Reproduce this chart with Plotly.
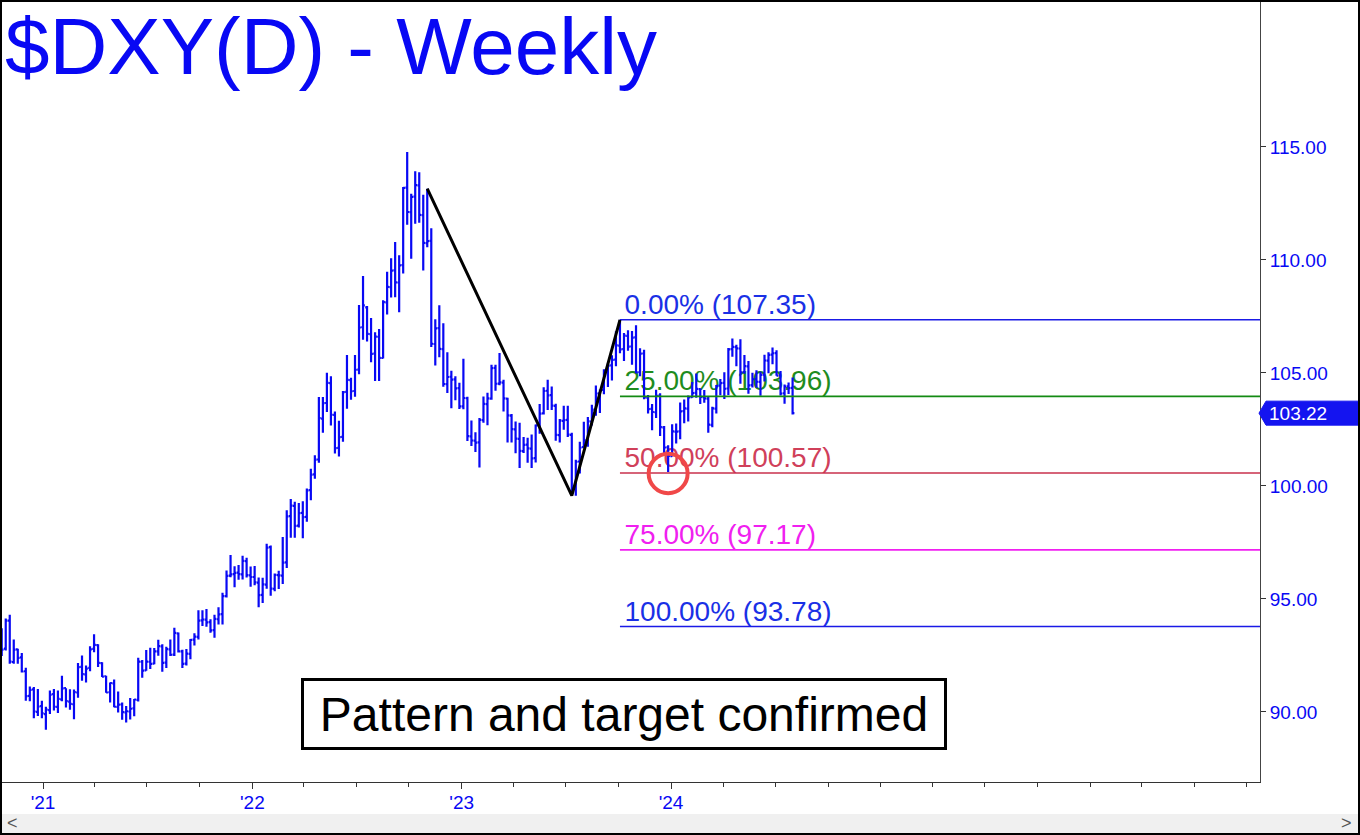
import pandas as pd
import plotly.graph_objects as go

# ---------------- data (weekly OHLC) ----------------
opens = [
    # 2020 (from late Oct)
    93.68, 92.80, 94.04, 92.21, 92.77, 92.41, 91.80, 90.71, 91.00, 90.00,
    # 2021
    90.26, 89.90, 90.08, 90.79, 90.22, 90.56, 91.05, 90.46, 90.34, 90.86,
    91.99, 91.66, 91.95, 92.79, 92.96, 92.16, 91.58, 90.87, 91.26, 90.22,
    90.33, 89.98, 90.02, 90.16, 90.53, 92.22, 91.84, 92.22, 92.14, 92.68,
    92.90, 92.18, 92.77, 92.54, 93.48, 92.68, 92.14, 92.57, 93.20, 93.32,
    94.05, 94.08, 93.97, 93.62, 94.10, 94.33, 95.12, 96.03, 96.10, 96.16,
    96.09, 96.67, 96.04,
    # 2022
    95.97, 95.72, 95.18, 95.63, 97.29, 95.45, 96.05, 96.03, 96.62, 98.66,
    99.12, 98.24, 98.81, 98.63, 99.81, 100.51, 101.17, 102.98, 103.67, 104.55,
    103.14, 101.68, 102.17, 104.16, 104.68, 104.20, 105.15, 107.02, 107.90, 106.72,
    105.85, 106.60, 105.66, 108.12, 108.80, 109.54, 109.00, 109.77, 113.20, 112.11,
    112.80, 113.30, 111.98, 110.74, 110.84, 106.28, 106.98, 106.05, 104.50, 104.83,
    104.71, 104.33,
    # 2023
    103.52, 103.88, 102.19, 102.00, 101.93, 102.91, 103.62, 103.86, 105.22, 104.53,
    104.57, 103.86, 103.11, 102.50, 102.08, 101.54, 101.83, 101.65, 101.23, 102.67,
    103.21, 104.21, 104.02, 103.54, 102.25, 102.88, 102.92, 102.26, 99.90, 101.08,
    101.72, 102.03, 102.85, 103.37, 104.10, 104.25, 105.06, 105.33, 105.59, 106.21,
    106.05, 106.64, 106.17, 106.57, 105.03, 105.86, 103.91, 103.41, 103.26, 104.00,
    102.59, 101.71,
    # 2024
    101.32, 102.40, 102.41, 103.31, 103.42, 103.93, 104.12, 104.28, 103.93, 103.86,
    102.70, 103.42, 104.44, 104.56, 104.31, 106.05, 106.14, 106.08, 105.04, 105.29,
    104.46, 104.73, 104.60, 104.92, 105.54, 105.81, 105.88, 104.89, 104.10, 104.41,
    104.34,
]
highs = [
    93.70, 94.13, 94.30, 93.21, 92.80, 92.61, 91.95, 91.13, 91.10, 91.01,
    90.50, 90.23, 90.95, 91.01, 90.95, 91.60, 91.05, 91.00, 90.99, 92.17,
    92.50, 92.05, 92.91, 93.44, 93.00, 92.20, 91.60, 91.30, 91.44, 90.90,
    90.42, 90.26, 90.62, 90.57, 92.40, 92.30, 92.74, 92.84, 92.83, 93.19,
    92.99, 92.88, 93.20, 93.73, 93.52, 92.75, 92.78, 93.23, 93.48, 94.50,
    94.50, 94.56, 94.10, 94.30, 94.63, 95.27, 96.26, 96.94, 96.45, 96.50,
    96.91, 96.82, 96.44,
    96.46, 95.95, 95.94, 97.44, 97.36, 96.12, 96.25, 97.74, 98.92, 99.42,
    99.30, 99.25, 99.32, 99.89, 100.76, 101.36, 103.93, 103.94, 105.01, 104.85,
    103.29, 102.88, 104.20, 105.79, 104.79, 105.79, 108.00, 109.29, 107.96, 107.43,
    106.80, 106.94, 108.22, 109.48, 110.07, 110.79, 110.21, 113.23, 114.78, 112.93,
    113.92, 113.88, 112.88, 113.15, 111.40, 107.38, 107.99, 107.20, 105.92, 105.10,
    104.85, 104.56,
    105.63, 103.95, 102.90, 102.37, 103.01, 103.96, 104.12, 105.36, 105.36, 105.88,
    104.70, 103.90, 103.18, 102.85, 102.80, 102.16, 102.13, 102.28, 102.72, 103.62,
    104.37, 104.70, 104.40, 103.64, 102.96, 103.55, 103.55, 102.35, 101.16, 101.96,
    102.84, 103.05, 103.59, 104.44, 104.27, 105.16, 105.43, 105.78, 106.84, 107.35,
    106.77, 106.89, 106.86, 107.11, 106.09, 106.02, 104.02, 103.63, 104.26, 104.10,
    102.65, 101.80,
    102.73, 102.76, 103.69, 103.82, 104.00, 104.60, 104.97, 104.32, 104.24, 103.94,
    103.50, 104.46, 104.73, 105.03, 106.10, 106.52, 106.25, 106.49, 105.79, 105.53,
    105.01, 105.12, 105.05, 105.80, 105.91, 106.13, 106.00, 105.08, 104.49, 104.58,
    104.80,
]
lows = [
    92.47, 92.72, 92.13, 92.13, 92.13, 91.75, 90.50, 90.47, 89.72, 89.82,
    89.72, 89.21, 89.91, 90.06, 89.95, 90.47, 90.20, 90.10, 89.68, 90.63,
    91.38, 91.30, 91.80, 92.64, 91.99, 91.55, 90.85, 90.42, 90.21, 89.98,
    89.65, 89.53, 89.66, 89.81, 90.46, 91.51, 91.82, 91.90, 92.11, 92.49,
    91.78, 91.94, 92.47, 92.47, 92.63, 91.94, 92.06, 92.33, 92.94, 93.21,
    93.80, 93.77, 93.50, 93.28, 93.87, 93.87, 95.06, 95.96, 95.52, 95.85,
    95.86, 95.95, 95.54,
    95.60, 94.63, 94.82, 95.45, 95.14, 95.34, 95.44, 95.66, 96.37, 97.71,
    97.71, 98.16, 97.68, 98.42, 99.37, 100.32, 101.03, 102.35, 103.27, 102.67,
    101.43, 101.30, 101.95, 103.41, 103.81, 103.95, 104.94, 106.47, 106.39, 105.47,
    104.64, 104.64, 105.64, 107.59, 108.34, 108.35, 107.68, 109.40, 111.56, 110.05,
    111.60, 111.64, 109.53, 110.56, 106.15, 105.33, 105.69, 104.39, 104.11, 103.44,
    103.79, 103.40,
    103.39, 101.99, 101.77, 101.50, 100.82, 102.80, 102.69, 103.81, 104.21, 104.45,
    103.29, 101.92, 101.92, 101.45, 100.79, 101.46, 101.03, 100.79, 101.04, 102.31,
    103.16, 103.36, 103.36, 102.00, 101.92, 102.49, 102.16, 99.57, 99.56, 100.55,
    101.70, 101.73, 102.67, 103.11, 103.23, 104.06, 104.38, 104.67, 105.29, 105.87,
    105.53, 105.98, 105.36, 104.98, 104.85, 103.83, 103.20, 102.46, 103.01, 102.21,
    101.42, 100.62,
    101.30, 101.88, 102.07, 102.77, 102.85, 103.90, 103.90, 103.62, 103.68, 102.35,
    102.60, 103.21, 104.01, 103.85, 104.02, 105.72, 105.30, 104.52, 104.96, 104.08,
    104.35, 104.34, 103.99, 104.62, 104.99, 105.38, 104.87, 104.00, 103.64, 104.07,
    103.16,
]
closes = [
    92.76, 94.04, 92.23, 92.76, 92.39, 91.79, 90.70, 90.98, 90.02, 90.24,
    89.94, 90.10, 90.77, 90.23, 90.58, 91.04, 90.48, 90.36, 90.88, 91.98,
    91.67, 91.92, 92.77, 92.97, 92.17, 91.56, 90.86, 91.28, 90.23, 90.32,
    89.99, 90.03, 90.14, 90.55, 92.23, 91.83, 92.23, 92.13, 92.68, 92.91,
    92.17, 92.78, 92.53, 93.50, 92.68, 92.13, 92.58, 93.19, 93.33, 94.04,
    94.09, 93.96, 93.61, 94.12, 94.32, 95.12, 96.02, 96.09, 96.15, 96.10,
    96.68, 96.05, 95.97,
    95.73, 95.17, 95.64, 97.27, 95.46, 96.06, 96.04, 96.61, 98.65, 99.13,
    98.23, 98.80, 98.62, 99.80, 100.50, 101.16, 103.00, 103.66, 104.56, 103.15,
    101.67, 102.16, 104.15, 104.69, 104.19, 105.14, 107.01, 107.99, 106.73, 105.84,
    106.61, 105.67, 108.13, 108.81, 109.53, 109.01, 109.76, 113.19, 112.12, 112.79,
    113.31, 111.99, 110.75, 110.83, 106.29, 106.97, 106.06, 104.51, 104.82, 104.70,
    104.32, 103.52,
    103.89, 102.20, 102.01, 101.92, 102.92, 103.63, 103.87, 105.21, 104.52, 104.58,
    103.87, 103.12, 102.51, 102.09, 101.55, 101.82, 101.66, 101.22, 102.68, 103.20,
    104.20, 104.01, 103.55, 102.26, 102.89, 102.91, 102.27, 99.91, 101.07, 101.70,
    102.02, 102.86, 103.38, 104.09, 104.24, 105.05, 105.32, 105.58, 106.22, 106.04,
    106.65, 106.16, 106.56, 105.02, 105.85, 103.92, 103.40, 103.27, 103.99, 102.60,
    101.70, 101.33,
    102.41, 102.40, 103.30, 103.43, 103.92, 104.11, 104.29, 103.94, 103.87, 102.71,
    103.43, 104.43, 104.55, 104.30, 106.04, 106.15, 106.09, 105.03, 105.30, 104.45,
    104.72, 104.61, 104.91, 105.55, 105.80, 105.87, 104.88, 104.09, 104.40, 104.33,
    103.22,
]
first_week = "2020-10-21"

fib_pcts = ["0.00%", "25.00%", "50.00%", "75.00%", "100.00%"]
fib_values = [107.35, 103.96, 100.57, 97.17, 93.78]

pattern_dates = ["2022-11-02", "2023-07-12", "2023-10-04"]
pattern_prices = [113.15, 99.57, 107.35]

circle_date = "2023-12-27"
circle_price = 100.55

y_ticks = [90, 95, 100, 105, 110, 115]
x_tick_dates = ["2021-01-01", "2022-01-01", "2023-01-01", "2024-01-01"]
x_tick_text = ["'21", "'22", "'23", "'24"]
last_price = 103.22

title_text = "$DXY(D) - Weekly"
note_text = "Pattern and target confirmed"

# ---------------- styling ----------------
W, H = 1360, 835
ML, MR, MT, MB = 0, 100, 0, 53
PW, PH = W - ML - MR, H - MT - MB
FONT = "Liberation Sans, Arial, sans-serif"
BLUE = "#0808f4"
fib_line_colors = ["#1a1ae6", "#138a13", "#c8304c", "#f020f0", "#1a1ae6"]
fib_text_colors = ["#1a30e6", "#1e8c1e", "#d0405a", "#f020f0", "#1a30e6"]


def xp(px):
    return px / PW


def yp(py):
    return (PH - py) / PH


dates = pd.date_range(first_week, periods=len(closes), freq="W-WED")

fig = go.Figure()

fig.add_trace(go.Ohlc(
    x=dates, open=opens, high=highs, low=lows, close=closes,
    increasing=dict(line=dict(color=BLUE, width=2.2)),
    decreasing=dict(line=dict(color=BLUE, width=2.2)),
    tickwidth=0.45, hoverinfo="skip", showlegend=False,
))

# fib lines (drawn above bars)
fib_start = pattern_dates[2]
for v, col in zip(fib_values, fib_line_colors):
    fig.add_trace(go.Scatter(
        x=[fib_start, "2027-06-01"], y=[v, v], mode="lines",
        line=dict(color=col, width=1.6), hoverinfo="skip", showlegend=False,
    ))

# ABC pattern lines
fig.add_trace(go.Scatter(
    x=pattern_dates, y=pattern_prices, mode="lines",
    line=dict(color="black", width=3), hoverinfo="skip", showlegend=False,
))

shapes = []
# fib labels (below bars)
label_start = (pd.Timestamp(fib_start) + pd.Timedelta(days=8)).strftime("%Y-%m-%d")
for pct, v, col in zip(fib_pcts, fib_values, fib_text_colors):
    shapes.append(dict(
        type="line", xref="x", yref="y", x0=label_start, x1="2027-01-01",
        y0=v, y1=v, layer="below",
        line=dict(color="rgba(0,0,0,0)", width=1),
        label=dict(text=f"{pct} ({v:.2f})", textposition="start",
                   xanchor="left", yanchor="bottom", padding=3,
                   font=dict(family=FONT, size=28, color=col)),
    ))

# red circle
cd = pd.Timestamp(circle_date)
shapes.append(dict(
    type="circle", xref="x", yref="y",
    x0=(cd - pd.Timedelta(days=34)).strftime("%Y-%m-%d"),
    x1=(cd + pd.Timedelta(days=34)).strftime("%Y-%m-%d"),
    y0=circle_price - 0.87, y1=circle_price + 0.87,
    line=dict(color="#f04848", width=4), layer="above",
))

# price marker on the right axis
pm_h = 12 / (PH / (121.50 - 86.90))
shapes.append(dict(
    type="path", xref="paper", yref="y", layer="above",
    path=(f"M {xp(1259)},{last_price} L {xp(1266)},{last_price + pm_h} "
          f"L {xp(1362)},{last_price + pm_h} L {xp(1362)},{last_price - pm_h} "
          f"L {xp(1266)},{last_price - pm_h} Z"),
    fillcolor="#1414f0", line=dict(color="#1414f0", width=1),
))

# scrollbar
shapes.append(dict(
    type="rect", xref="paper", yref="paper", x0=xp(1), x1=xp(1359),
    y0=yp(833), y1=yp(814), fillcolor="#f0f0f0", line=dict(width=0),
    layer="above",
))
# outer frame
shapes.append(dict(
    type="rect", xref="paper", yref="paper", x0=xp(0), x1=xp(1360),
    y0=yp(835), y1=yp(0), line=dict(color="black", width=4),
    fillcolor="rgba(0,0,0,0)", layer="above",
))

annotations = [
    dict(text=title_text, xref="paper", yref="paper", x=xp(3), y=1,
         xanchor="left", yanchor="top", yshift=0, showarrow=False,
         font=dict(family=FONT, size=80, color=BLUE)),
    dict(text=note_text, xref="paper", yref="paper", x=xp(624), y=yp(713.5),
         xanchor="center", yanchor="middle", showarrow=False,
         width=640, height=66, borderpad=0, borderwidth=3,
         bordercolor="black", bgcolor="white",
         font=dict(family=FONT, size=48, color="black")),
    dict(text=f"{last_price:.2f}", xref="paper", yref="y", x=xp(1298),
         y=last_price, xanchor="center", yanchor="middle", showarrow=False,
         font=dict(family=FONT, size=19, color="white")),
    dict(text="&lt;", xref="paper", yref="paper", x=xp(12), y=yp(823),
         xanchor="center", yanchor="middle", showarrow=False,
         font=dict(family=FONT, size=18, color="#555555")),
    dict(text="&gt;", xref="paper", yref="paper", x=xp(1346), y=yp(823),
         xanchor="center", yanchor="middle", showarrow=False,
         font=dict(family=FONT, size=18, color="#555555")),
]

fig.update_layout(
    width=W, height=H,
    margin=dict(l=ML, r=MR, t=MT, b=MB, pad=0),
    paper_bgcolor="white", plot_bgcolor="white",
    showlegend=False, hovermode=False,
    shapes=shapes, annotations=annotations,
    xaxis=dict(
        type="date", range=["2020-10-18", "2026-10-24"],
        tickmode="array", tickvals=x_tick_dates, ticktext=x_tick_text,
        ticks="outside", ticklen=6, tickcolor="#333333", tickwidth=1,
        tickfont=dict(family=FONT, size=19, color=BLUE),
        ticklabelstandoff=-3,
        showline=True, linecolor="#333333", linewidth=1,
        showgrid=False, zeroline=False,
        rangeslider=dict(visible=False),
        minor=dict(ticks="outside", ticklen=4, tickcolor="#333333",
                   dtick="M3", tick0="2021-01-01", showgrid=False),
    ),
    yaxis=dict(
        side="right", range=[86.90, 121.50],
        tickmode="array", tickvals=y_ticks,
        ticktext=[f"{v:.2f}" for v in y_ticks],
        ticks="outside", ticklen=5, tickcolor="#333333",
        tickfont=dict(family=FONT, size=19, color=BLUE),
        showline=True, linecolor="#444444", linewidth=1,
        showgrid=False, zeroline=False,
    ),
)

fig.write_html(
    "out.html",
    config={"displayModeBar": False, "staticPlot": True},
    post_script="document.body.style.margin='0';document.body.style.padding='0';"
                "document.body.style.overflow='hidden';",
)
